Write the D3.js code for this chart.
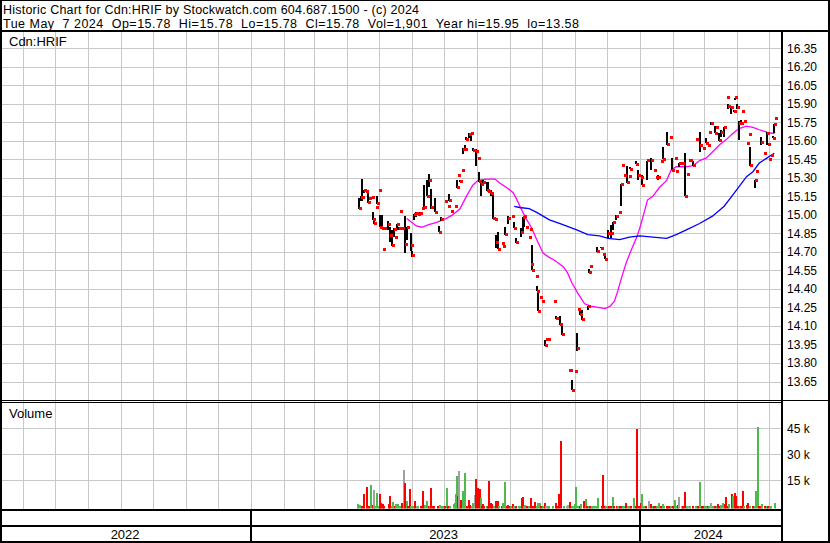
<!DOCTYPE html>
<html><head><meta charset="utf-8">
<script src="https://cdn.jsdelivr.net/npm/d3@7"></script>
<style>
body{margin:0;background:#fff;}
svg{display:block;font-family:"Liberation Sans",Arial,sans-serif;}
</style>
</head><body><svg id="chart" width="830" height="543"></svg>
<script>
// ---------------- DATA ----------------
const titleLine1 = "Historic Chart for Cdn:HRIF by Stockwatch.com 604.687.1500 - (c) 2024";
const titleLine2 = "Tue May  7 2024  Op=15.78  Hi=15.78  Lo=15.78  Cl=15.78  Vol=1,901  Year hi=15.95  lo=13.58";
const symbolLabel = "Cdn:HRIF";
const volumeLabel = "Volume";
const priceTicks = [16.35,16.20,16.05,15.90,15.75,15.60,15.45,15.30,15.15,15.00,14.85,14.70,14.55,14.40,14.25,14.10,13.95,13.80,13.65];
const volumeTicks = [15000,30000,45000];
const yearLabels = [["2022","2022-133","2023-001"],["2023","2023-001","2024-001"],["2024","2024-001","2024-133"]];

// [date (ISO ordinal YYYY-DDD), high, low, close]
const priceBars = [
["2023-102",15.14,15.05,15.05],["2023-104",15.15,15.11,15.14],["2023-105",15.29,15.11,15.14],["2023-107",15.20,15.18,15.20],
["2023-109",15.19,15.19,15.19],["2023-111",15.18,15.10,15.10],["2023-112",15.13,15.13,15.13],["2023-114",15.14,15.14,15.14],
["2023-115",15.02,14.96,14.96],["2023-116",14.97,14.93,14.93],["2023-118",15.06,15.06,15.06],["2023-119",15.15,15.09,15.09],
["2023-121",15.20,15.20,15.20],["2023-122",15.00,14.90,14.90],["2023-124",15.00,14.89,14.89],["2023-125",14.72,14.72,14.72],
["2023-126",14.89,14.89,14.89],["2023-129",14.95,14.88,14.92],["2023-131",14.90,14.78,14.83],["2023-133",14.88,14.75,14.75],
["2023-135",14.89,14.82,14.88],["2023-136",14.82,14.82,14.82],["2023-138",14.93,14.88,14.92],["2023-140",14.90,14.88,14.89],
["2023-141",15.03,15.03,15.03],["2023-143",14.89,14.89,14.89],["2023-145",14.99,14.69,14.76],["2023-147",14.90,14.80,14.90],
["2023-151",14.85,14.71,14.75],["2023-152",14.71,14.66,14.67],["2023-154",15.01,14.96,15.00],["2023-156",15.02,14.98,15.01],
["2023-158",15.00,15.00,15.00],["2023-159",15.02,15.00,15.01],["2023-161",15.05,15.05,15.05],["2023-163",15.24,15.04,15.06],
["2023-166",15.28,15.15,15.15],["2023-168",15.33,15.23,15.28],["2023-170",15.21,15.05,15.06],["2023-174",15.14,15.02,15.02],
["2023-177",14.91,14.86,14.86],["2023-179",14.98,14.95,14.96],["2023-183",15.11,15.11,15.11],["2023-186",15.07,15.07,15.07],
["2023-187",15.17,15.11,15.12],["2023-189",15.03,15.03,15.03],["2023-192",15.07,15.07,15.07],["2023-194",15.28,15.22,15.22],
["2023-195",15.32,15.32,15.32],["2023-197",15.28,15.27,15.27],["2023-199",15.36,15.36,15.36],["2023-200",15.54,15.49,15.53],
["2023-202",15.57,15.53,15.53],["2023-203",15.63,15.61,15.61],["2023-205",15.66,15.62,15.65],["2023-207",15.66,15.60,15.66],
["2023-209",15.54,15.52,15.52],["2023-212",15.53,15.40,15.51],["2023-214",15.46,15.46,15.46],["2023-215",15.35,15.27,15.27],
["2023-217",15.28,15.15,15.25],["2023-219",15.28,15.26,15.26],["2023-222",15.27,15.19,15.20],["2023-223",15.27,15.19,15.19],
["2023-226",15.20,15.15,15.17],["2023-228",15.17,14.97,14.97],["2023-230",14.96,14.96,14.96],["2023-231",14.84,14.73,14.78],
["2023-233",14.86,14.72,14.72],["2023-236",14.77,14.77,14.77],["2023-237",14.74,14.74,14.74],["2023-239",14.90,14.84,14.84],
["2023-242",14.99,14.93,14.97],["2023-246",14.99,14.99,14.99],["2023-248",14.94,14.89,14.89],["2023-250",14.81,14.77,14.78],
["2023-254",14.89,14.82,14.86],["2023-256",14.98,14.85,14.98],["2023-257",14.99,14.90,14.99],["2023-259",14.90,14.90,14.90],
["2023-262",14.82,14.82,14.82],["2023-263",14.88,14.88,14.88],["2023-264",14.60,14.60,14.60],["2023-265",14.76,14.55,14.55],
["2023-268",14.50,14.50,14.50],["2023-269",14.42,14.38,14.38],["2023-270",14.38,14.22,14.22],["2023-272",14.33,14.33,14.33],
["2023-274",14.30,14.30,14.30],["2023-277",13.99,13.94,13.94],["2023-278",13.99,13.99,13.99],["2023-280",13.99,13.99,13.99],
["2023-285",14.30,14.30,14.30],["2023-287",14.18,14.16,14.16],["2023-291",14.18,14.11,14.11],["2023-293",14.11,14.03,14.03],
["2023-299",13.74,13.74,13.74],["2023-300",13.74,13.74,13.74],["2023-302",13.66,13.58,13.58],["2023-305",13.73,13.73,13.73],
["2023-307",14.04,13.90,13.92],["2023-308",14.23,14.23,14.23],["2023-310",14.22,14.19,14.19],["2023-312",14.23,14.15,14.15],
["2023-317",14.26,14.23,14.26],["2023-318",14.56,14.53,14.53],["2023-319",14.58,14.58,14.58],["2023-326",14.74,14.70,14.70],
["2023-329",14.74,14.73,14.73],["2023-331",14.68,14.68,14.68],["2023-333",14.69,14.64,14.64],["2023-336",14.88,14.81,14.85],
["2023-339",14.92,14.81,14.85],["2023-341",14.94,14.88,14.94],["2023-343",15.00,14.96,14.99],["2023-346",15.02,15.02,15.02],
["2023-348",15.25,15.07,15.25],["2023-349",15.40,15.40,15.40],["2023-351",15.32,15.32,15.32],["2023-354",15.40,15.26,15.26],
["2023-356",15.31,15.31,15.31],["2023-357",15.39,15.37,15.37],["2023-362",15.44,15.41,15.41],["2023-364",15.36,15.28,15.32],
["2024-002",15.30,15.30,15.30],["2024-003",15.32,15.24,15.24],["2024-008",15.44,15.28,15.44],["2024-011",15.46,15.36,15.44],
["2024-014",15.36,15.36,15.36],["2024-016",15.30,15.30,15.30],["2024-018",15.32,15.28,15.30],["2024-021",15.43,15.43,15.43],
["2024-023",15.55,15.45,15.45],["2024-026",15.67,15.57,15.57],["2024-029",15.63,15.63,15.63],["2024-031",15.46,15.36,15.36],
["2024-034",15.46,15.46,15.46],["2024-035",15.35,15.35,15.35],["2024-038",15.42,15.39,15.42],["2024-040",15.42,15.42,15.42],
["2024-043",15.50,15.15,15.15],["2024-045",15.33,15.33,15.33],["2024-047",15.44,15.44,15.44],["2024-048",15.44,15.44,15.44],
["2024-051",15.44,15.40,15.40],["2024-054",15.61,15.61,15.61],["2024-057",15.67,15.51,15.56],["2024-060",15.54,15.54,15.54],
["2024-063",15.62,15.58,15.58],["2024-065",15.56,15.56,15.56],["2024-066",15.67,15.67,15.67],["2024-068",15.75,15.73,15.74],
["2024-071",15.72,15.66,15.66],["2024-072",15.71,15.71,15.71],["2024-075",15.66,15.60,15.60],["2024-077",15.69,15.63,15.67],
["2024-080",15.71,15.63,15.71],["2024-083",15.95,15.95,15.95],["2024-084",15.90,15.86,15.88],["2024-086",15.87,15.82,15.87],
["2024-089",15.85,15.83,15.84],["2024-090",15.95,15.93,15.95],["2024-092",15.90,15.86,15.87],["2024-094",15.76,15.61,15.74],
["2024-096",15.77,15.74,15.74],["2024-097",15.84,15.84,15.84],["2024-099",15.76,15.76,15.76],["2024-101",15.58,15.58,15.58],
["2024-103",15.65,15.65,15.65],["2024-104",15.55,15.40,15.40],["2024-109",15.28,15.22,15.28],["2024-110",15.35,15.35,15.35],
["2024-115",15.63,15.57,15.59],["2024-117",15.50,15.50,15.50],["2024-120",15.67,15.57,15.66],["2024-121",15.57,15.57,15.57],
["2024-122",15.45,15.45,15.45],["2024-124",15.48,15.48,15.48],["2024-126",15.64,15.62,15.62],["2024-127",15.74,15.66,15.73],
["2024-128",15.78,15.78,15.78]
];

// short moving average (magenta) [date, value]
const maShort = [
["2023-147",14.97],["2023-156",14.91],["2023-161",14.90],["2023-167",14.92],["2023-175",14.94],["2023-184",14.97],
["2023-190",15.00],["2023-197",15.05],["2023-203",15.15],["2023-209",15.24],["2023-214",15.28],["2023-222",15.29],
["2023-230",15.29],["2023-234",15.26],["2023-241",15.22],["2023-247",15.18],["2023-250",15.13],["2023-255",15.04],
["2023-259",14.97],["2023-264",14.90],["2023-269",14.80],["2023-275",14.69],["2023-280",14.66],["2023-286",14.63],
["2023-294",14.58],["2023-298",14.53],["2023-302",14.45],["2023-308",14.36],["2023-314",14.28],["2023-320",14.26],
["2023-333",14.24],["2023-338",14.26],["2023-342",14.30],["2023-345",14.38],["2023-349",14.50],["2023-353",14.61],
["2023-358",14.72],["2023-363",14.82],["2024-001",14.90],["2024-004",14.99],["2024-008",15.12],["2024-013",15.15],
["2024-019",15.22],["2024-026",15.28],["2024-030",15.36],["2024-035",15.39],["2024-044",15.39],["2024-051",15.40],
["2024-057",15.44],["2024-063",15.46],["2024-069",15.51],["2024-076",15.57],["2024-082",15.61],["2024-088",15.66],
["2024-094",15.70],["2024-101",15.72],["2024-107",15.71],["2024-113",15.69],["2024-120",15.67],["2024-126",15.66],
["2024-128",15.67]
];

// long moving average (blue) [date, value]
const maLong = [
["2023-248",15.07],["2023-253",15.06],["2023-262",15.05],["2023-269",15.02],["2023-275",14.99],["2023-281",14.96],
["2023-291",14.93],["2023-306",14.88],["2023-317",14.84],["2023-328",14.83],["2023-336",14.81],["2023-347",14.80],
["2023-356",14.82],["2024-001",14.83],["2024-013",14.82],["2024-026",14.81],["2024-035",14.84],["2024-045",14.88],
["2024-057",14.93],["2024-069",14.99],["2024-080",15.07],["2024-088",15.16],["2024-094",15.23],["2024-101",15.31],
["2024-107",15.35],["2024-113",15.42],["2024-120",15.46],["2024-127",15.50]
];

// [date, volume (shares), direction u=up d=down n=unchanged]
const volumeBars = [
["2023-101",1100,"u"],["2023-103",600,"u"],["2023-105",300,"d"],["2023-107",6900,"d"],["2023-110",10900,"d"],["2023-112",300,"d"],
["2023-113",12300,"u"],["2023-115",750,"d"],["2023-116",9400,"n"],["2023-117",300,"u"],["2023-119",7500,"u"],["2023-121",300,"u"],
["2023-122",7100,"d"],["2023-123",2100,"d"],["2023-125",1300,"d"],["2023-126",300,"d"],["2023-130",1100,"d"],["2023-131",5800,"d"],
["2023-133",300,"u"],["2023-134",2300,"u"],["2023-136",400,"d"],["2023-137",1100,"u"],["2023-139",1300,"u"],["2023-141",300,"u"],
["2023-143",1700,"d"],["2023-144",20900,"n"],["2023-145",13600,"d"],["2023-147",3100,"u"],["2023-148",300,"d"],["2023-150",10000,"d"],
["2023-151",300,"u"],["2023-153",300,"u"],["2023-155",3100,"d"],["2023-157",300,"n"],["2023-158",300,"u"],["2023-160",300,"d"],
["2023-162",8800,"d"],["2023-164",600,"u"],["2023-166",3100,"u"],["2023-168",400,"d"],["2023-169",300,"u"],["2023-170",10400,"d"],
["2023-172",300,"d"],["2023-173",300,"d"],["2023-176",300,"d"],["2023-178",750,"u"],["2023-180",400,"u"],["2023-181",300,"u"],
["2023-183",300,"d"],["2023-185",10400,"u"],["2023-186",300,"d"],["2023-188",300,"u"],["2023-191",1300,"u"],["2023-192",1700,"u"],
["2023-193",6900,"u"],["2023-194",17500,"u"],["2023-195",5900,"d"],["2023-196",20400,"n"],["2023-197",400,"u"],["2023-198",3600,"d"],
["2023-200",8800,"u"],["2023-201",750,"u"],["2023-202",19000,"u"],["2023-204",300,"d"],["2023-205",3600,"d"],["2023-206",750,"d"],
["2023-208",300,"u"],["2023-209",1700,"u"],["2023-211",6500,"n"],["2023-212",15600,"d"],["2023-214",10400,"d"],["2023-216",10000,"d"],
["2023-217",4600,"u"],["2023-218",300,"d"],["2023-219",1300,"d"],["2023-220",300,"d"],["2023-222",300,"u"],["2023-223",300,"d"],
["2023-224",14600,"d"],["2023-226",1700,"d"],["2023-227",1100,"d"],["2023-229",300,"u"],["2023-231",2900,"d"],["2023-233",3100,"d"],
["2023-234",300,"u"],["2023-236",300,"d"],["2023-237",1700,"u"],["2023-239",13800,"u"],["2023-241",300,"d"],["2023-242",750,"d"],
["2023-244",300,"d"],["2023-245",300,"u"],["2023-247",1300,"d"],["2023-248",300,"u"],["2023-250",300,"d"],["2023-252",300,"u"],
["2023-253",300,"u"],["2023-255",5000,"d"],["2023-256",5600,"d"],["2023-257",300,"u"],["2023-258",750,"u"],["2023-260",300,"d"],
["2023-262",300,"u"],["2023-264",4600,"d"],["2023-266",300,"d"],["2023-267",2300,"d"],["2023-269",300,"u"],["2023-270",1700,"u"],
["2023-272",1700,"u"],["2023-273",300,"d"],["2023-275",300,"u"],["2023-277",2100,"d"],["2023-278",300,"n"],["2023-280",300,"u"],
["2023-281",300,"u"],["2023-284",300,"u"],["2023-287",2100,"d"],["2023-288",300,"d"],["2023-290",6900,"d"],["2023-292",37700,"d"],
["2023-295",300,"u"],["2023-297",300,"n"],["2023-298",600,"n"],["2023-300",2500,"d"],["2023-302",300,"u"],["2023-304",300,"u"],
["2023-305",1300,"u"],["2023-306",10900,"u"],["2023-308",300,"u"],["2023-310",300,"d"],["2023-311",1300,"u"],["2023-313",3100,"d"],
["2023-315",4000,"u"],["2023-316",300,"d"],["2023-318",300,"u"],["2023-319",300,"d"],["2023-321",300,"u"],["2023-322",300,"u"],
["2023-324",300,"u"],["2023-326",300,"u"],["2023-327",4600,"u"],["2023-330",300,"d"],["2023-331",17900,"d"],["2023-333",300,"d"],
["2023-334",300,"u"],["2023-336",300,"u"],["2023-337",300,"d"],["2023-339",300,"d"],["2023-341",5200,"u"],["2023-342",300,"d"],
["2023-344",300,"d"],["2023-345",300,"u"],["2023-347",300,"d"],["2023-348",300,"d"],["2023-350",300,"u"],["2023-351",300,"u"],
["2023-353",1700,"d"],["2023-355",300,"u"],["2023-356",300,"u"],["2023-358",300,"d"],["2023-360",4600,"u"],["2023-362",300,"d"],
["2023-363",44400,"d"],["2023-365",300,"d"],
["2024-002",1700,"d"],["2024-003",6900,"u"],["2024-005",300,"u"],["2024-007",300,"d"],["2024-009",3100,"n"],["2024-011",1300,"d"],
["2024-013",300,"u"],["2024-014",300,"d"],["2024-016",300,"d"],["2024-017",300,"u"],["2024-019",1700,"u"],["2024-021",300,"d"],
["2024-023",1300,"u"],["2024-024",300,"u"],["2024-026",300,"d"],["2024-027",300,"d"],["2024-029",300,"d"],["2024-030",300,"u"],
["2024-032",300,"d"],["2024-034",3600,"u"],["2024-035",300,"u"],["2024-037",750,"d"],["2024-038",5200,"n"],["2024-040",300,"n"],
["2024-041",300,"d"],["2024-043",8100,"d"],["2024-045",300,"u"],["2024-046",300,"n"],["2024-048",300,"u"],["2024-051",300,"d"],
["2024-054",300,"u"],["2024-055",300,"d"],["2024-057",14000,"u"],["2024-059",300,"d"],["2024-060",300,"d"],["2024-062",300,"u"],
["2024-063",300,"u"],["2024-065",300,"d"],["2024-066",300,"u"],["2024-068",1700,"n"],["2024-070",300,"u"],["2024-071",300,"d"],
["2024-073",300,"u"],["2024-074",1100,"d"],["2024-076",300,"d"],["2024-077",750,"u"],["2024-079",1700,"u"],["2024-081",1300,"d"],
["2024-082",5200,"d"],["2024-084",300,"d"],["2024-085",1100,"u"],["2024-087",6900,"d"],["2024-088",6100,"u"],["2024-090",7500,"d"],
["2024-091",6100,"d"],["2024-093",300,"d"],["2024-095",300,"u"],["2024-096",300,"d"],["2024-098",8800,"d"],["2024-099",300,"u"],
["2024-101",750,"d"],["2024-102",1700,"d"],["2024-104",300,"u"],["2024-107",300,"d"],["2024-109",300,"u"],["2024-110",8800,"u"],
["2024-112",45600,"u"],["2024-113",300,"d"],["2024-115",300,"d"],["2024-116",1300,"u"],["2024-118",300,"d"],["2024-120",300,"u"],
["2024-121",300,"d"],["2024-123",300,"u"],["2024-124",300,"u"],["2024-128",1901,"u"]
];

// ---------------- DRAWING ----------------
const W = 830, H = 543;
const L = 2, R = 781;               // plot left / right
const priceTop = 32, priceBottom = 401;
const volTop = 403, volBase = 508.5;
const parseDate = d3.timeParse("%Y-%j");
const svg = d3.select("#chart");

const x = d3.scaleTime().domain([new Date(2023,0,1), new Date(2024,0,1)]).range([251.2, 640]);
const y = d3.scaleLinear().domain([13.65, 16.35]).range([381.5, 48.3]);
const yv = d3.scaleLinear().domain([0, 15000]).range([506.3, 480.3]);

svg.append("rect").attr("width", W).attr("height", H).attr("fill", "#fff");

const defs = svg.append("defs");
defs.append("clipPath").attr("id","cp").append("rect").attr("x",L).attr("y",priceTop).attr("width",R-L).attr("height",priceBottom-priceTop);
defs.append("clipPath").attr("id","cv").append("rect").attr("x",L).attr("y",volTop).attr("width",R-L).attr("height",volBase-volTop);

// grid
const grid = svg.append("g").attr("stroke", "#c8c8c8").attr("stroke-width", 1).attr("shape-rendering","crispEdges");
const months = d3.timeMonth.range(new Date(2022,5,1), new Date(2024,5,1));
grid.selectAll(".vg").data(months).join("line")
  .attr("x1", d => Math.round(x(d)) + 0.5).attr("x2", d => Math.round(x(d)) + 0.5)
  .attr("y1", priceTop).attr("y2", volBase + 1);
grid.selectAll(".hg").data(priceTicks).join("line")
  .attr("x1", L).attr("x2", R)
  .attr("y1", d => Math.round(y(d)) + 0.5).attr("y2", d => Math.round(y(d)) + 0.5);
grid.selectAll(".hv").data(volumeTicks).join("line")
  .attr("x1", L).attr("x2", R)
  .attr("y1", d => Math.round(yv(d)) + 0.5).attr("y2", d => Math.round(yv(d)) + 0.5);

// moving averages
const line = d3.line().x(d => x(parseDate(d[0]))).y(d => y(d[1]));
const pg = svg.append("g").attr("clip-path","url(#cp)");
pg.append("path").datum(maShort).attr("d", line).attr("fill","none").attr("stroke","#ff00ff").attr("stroke-width",1.3);
pg.append("path").datum(maLong).attr("d", line).attr("fill","none").attr("stroke","#0000ff").attr("stroke-width",1.3);

// price bars
pg.selectAll(".hl").data(priceBars.filter(d => d[1] > d[2])).join("rect")
  .attr("x", d => Math.round(x(parseDate(d[0]))) - 1).attr("width", 2)
  .attr("y", d => y(d[1])).attr("height", d => y(d[2]) - y(d[1]))
  .attr("fill", "#000").attr("shape-rendering","crispEdges");
pg.selectAll(".cl").data(priceBars).join("rect")
  .attr("x", d => Math.round(x(parseDate(d[0])))).attr("width", 3)
  .attr("y", d => Math.round(y(d[3]) - 1.5)).attr("height", 3)
  .attr("fill", "#ff0000").attr("shape-rendering","crispEdges");

// volume bars
const volColor = {u:"#4cbb4c", d:"#ff0000", n:"#a0a0a0"};
svg.append("g").attr("clip-path","url(#cv)").selectAll("rect").data(volumeBars).join("rect")
  .attr("x", d => Math.round(x(parseDate(d[0]))) - 1).attr("width", 2)
  .attr("y", d => yv(d[1])).attr("height", d => volBase - yv(d[1]))
  .attr("fill", d => volColor[d[2]]).attr("shape-rendering","crispEdges");

// frame
const fr = svg.append("g").attr("fill","#000").attr("shape-rendering","crispEdges");
fr.append("rect").attr("x",0).attr("y",0).attr("width",2).attr("height",H);           // left
fr.append("rect").attr("x",W-2).attr("y",0).attr("width",2).attr("height",H);         // right
fr.append("rect").attr("x",0).attr("y",H-2).attr("width",W).attr("height",2);         // bottom
fr.append("rect").attr("x",0).attr("y",0).attr("width",W).attr("height",1);           // top
fr.append("rect").attr("x",0).attr("y",30).attr("width",W).attr("height",2);          // header rule
fr.append("rect").attr("x",R).attr("y",32).attr("width",2).attr("height",H-32);       // axis separator
fr.append("rect").attr("x",0).attr("y",400).attr("width",R).attr("height",1);         // double line
fr.append("rect").attr("x",0).attr("y",402).attr("width",R).attr("height",1);
fr.append("rect").attr("x",R).attr("y",399.5).attr("width",W-R).attr("height",1);
fr.append("rect").attr("x",0).attr("y",508.5).attr("width",R).attr("height",2);       // bottom of volume
fr.append("rect").attr("x",0).attr("y",525).attr("width",R).attr("height",2);         // year row
[new Date(2023,0,1), new Date(2024,0,1)].forEach(d => {
  fr.append("rect").attr("x", Math.round(x(d)) - 1).attr("y", 509).attr("width", 2).attr("height", H - 509);
});

// texts
const tx = svg.append("g").attr("fill","#000").attr("font-size",12.5);
tx.append("text").attr("x",3).attr("y",14).attr("xml:space","preserve").style("white-space","pre")
  .attr("textLength",416).attr("lengthAdjust","spacing").text(titleLine1);
tx.append("text").attr("x",3).attr("y",28).attr("xml:space","preserve").style("white-space","pre")
  .attr("textLength",576).attr("lengthAdjust","spacing").text(titleLine2);
const tx2 = svg.append("g").attr("fill","#000").attr("font-size",13);
tx2.append("text").attr("x",9).attr("y",45.5).text(symbolLabel);
tx2.append("text").attr("x",9).attr("y",418).text(volumeLabel);

const ax = svg.append("g").attr("fill","#000").attr("font-size",12);
ax.selectAll(".pt").data(priceTicks).join("text")
  .attr("x", 787).attr("y", d => y(d) + 4.5).text(d => d.toFixed(2));
ax.selectAll(".vt").data(volumeTicks).join("text")
  .attr("x", 787).attr("y", d => yv(d) + 4.5).text(d => (d/1000) + " k");

svg.append("g").attr("font-size",13).attr("text-anchor","middle").selectAll("text").data(yearLabels).join("text")
  .attr("x", d => (Math.max(L, x(parseDate(d[1]))) + Math.min(R, x(parseDate(d[2])))) / 2 - 2)
  .attr("y", 539).text(d => d[0]);
</script>
</body></html>
